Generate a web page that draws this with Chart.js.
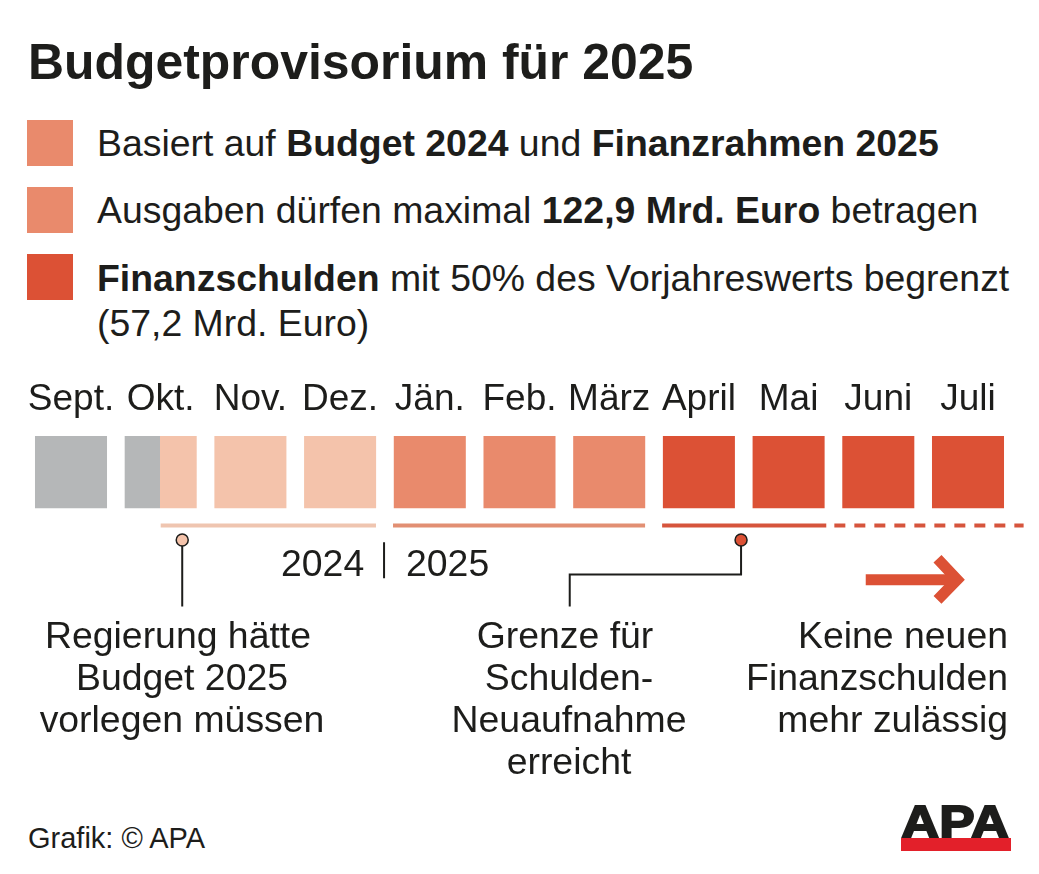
<!DOCTYPE html>
<html lang="de">
<head>
<meta charset="utf-8">
<title>Budgetprovisorium für 2025</title>
<script src="https://cdn.jsdelivr.net/npm/chart.js@4"></script>
<style>
  html, body { margin: 0; padding: 0; background: #fff; overflow: hidden; }
  body { width: 1039px; height: 874px; position: relative; font-family: "Liberation Sans", Arial, sans-serif; color: #1d1d1b; }
  .txt { position: absolute; font-size: 37.4px; line-height: 42px; white-space: nowrap; }
  .mitte { text-align: center; transform: translateX(-50%); }
  .rechts { text-align: right; }
  .titel { left: 28px; top: 37px; font-size: 49.9px; line-height: 50px; font-weight: bold; }
  .feld { position: absolute; left: 27px; width: 46px; height: 46px; }
  .quelle { left: 28px; top: 823px; font-size: 29px; line-height: 30px; }
  #diagramm { position: absolute; left: 0; top: 370px; }
  .logo { position: absolute; left: 901px; top: 796px; width: 110px; height: 42px; overflow: hidden; }
  .logo span { position: absolute; left: 0; bottom: -9px; font-size: 47px; line-height: 50px; font-weight: bold; color: #1d1d1b; -webkit-text-stroke: 2px #1d1d1b; transform-origin: left bottom; transform: scaleX(1.13); }
  .logo-balken { position: absolute; left: 901px; top: 838px; width: 110px; height: 13px; background: #e3202a; }
  .links4 { position: relative; left: -4px; }
</style>
</head>
<body>
  <div class="txt titel">Budgetprovisorium für 2025</div>

  <div class="feld" style="top:120px;background:#e98a6c"></div>
  <div class="txt" style="left:97px;top:122px">Basiert auf <b>Budget 2024</b> und <b>Finanzrahmen 2025</b></div>
  <div class="feld" style="top:187px;background:#e98a6c"></div>
  <div class="txt" style="left:97px;top:189px">Ausgaben dürfen maximal <b>122,9 Mrd. Euro</b> betragen</div>
  <div class="feld" style="top:254px;background:#dc5135"></div>
  <div class="txt" style="left:97px;top:255.5px;line-height:45px"><b>Finanzschulden</b> mit 50% des Vorjahreswerts begrenzt<br>(57,2 Mrd. Euro)</div>

  <canvas id="diagramm" width="1039" height="254"></canvas>

  <div class="txt" style="left:281px;top:542px">2024</div>
  <div class="txt" style="left:406px;top:542px">2025</div>

  <div class="txt mitte" style="left:182px;top:614px"><span class="links4">Regierung hätte</span><br>Budget 2025<br>vorlegen müssen</div>
  <div class="txt mitte" style="left:569px;top:614px"><span class="links4">Grenze für</span><br>Schulden-<br>Neuaufnahme<br>erreicht</div>
  <div class="txt rechts" style="right:31px;top:614px">Keine neuen<br>Finanzschulden<br>mehr zulässig</div>

  <div class="txt quelle">Grafik: © APA</div>
  <div class="logo"><span>APA</span></div>
  <div class="logo-balken"></div>

<script>
// Monate und Phasen
const monate = ['Sept.', 'Okt.', 'Nov.', 'Dez.', 'Jän.', 'Feb.', 'März', 'April', 'Mai', 'Juni', 'Juli'];
const monatWerte = [1, 1, 1, 1, 1, 1, 1, 1, 1, 1, 1];
const monatPhase = ['vor', 'wechsel', 'p2024', 'p2024', 'p2025', 'p2025', 'p2025', 'schuld', 'schuld', 'schuld', 'schuld'];

// Zeitleiste in Monaten (0 = Sept.), Zeilen relativ zur Balkenhöhe
const zeitProvisorium2024 = [1, 3.4];
const zeitProvisorium2025 = [3.59, 6.4];
const zeitSchulden = [6.59, 8.42];
const zeitKeineSchulden = [8.51, 10.62];
const zeitVorlage = 1.24;
const zeitGrenze = 7.47;
const zeitGrenzeText = 5.56;
const zeitJahreswechsel = 3.49;
const zeitPfeil = [8.86, 9.8];
const zeitPfeilSpitze = [9.66, 9.88, 9.66];

const zeileBalken = -0.24;
const zeilePunkt = -0.44;
const zeileKnick = -0.92;
const zeileTextAnfang = -1.36;
const zeileJahrOben = -0.47;
const zeileJahrUnten = -0.97;
const zeilePfeil = -0.99;
const zeilenPfeilSpitze = [-0.7, -0.99, -1.27];

const farben = {
  vor: '#b5b7b8',
  p2024: '#f4c3ab',
  p2025: '#e98a6c',
  schuld: '#dc5135',
  linie: '#1d1d1b'
};

function balkenFarbe(c) {
  const phase = monatPhase[c.dataIndex];
  if (phase !== 'wechsel') return farben[phase];
  // Oktober: Wechsel von grau auf hell in der Monatsmitte
  const xs = c.chart.scales.x;
  if (!xs) return farben.vor;
  const mitte = xs.getPixelForValue(c.dataIndex);
  const g = c.chart.ctx.createLinearGradient(mitte - 36, 0, mitte + 36, 0);
  g.addColorStop(0, farben.vor);
  g.addColorStop(0.49, farben.vor);
  g.addColorStop(0.49, farben.p2024);
  g.addColorStop(1, farben.p2024);
  return g;
}

function strecke(zeit, zeile, farbe, breite, extra) {
  return Object.assign({
    type: 'line',
    xAxisID: 'zeit',
    data: zeit.map((x) => ({ x: x, y: zeile })),
    borderColor: farbe,
    borderWidth: breite,
    pointRadius: 0,
    clip: false,
    borderCapStyle: 'butt'
  }, extra || {});
}

function pfad(punkte, farbe, breite) {
  return strecke([], 0, farbe, breite, { data: punkte, borderJoinStyle: 'miter' });
}

function punkt(x, y, fuellung) {
  return {
    type: 'scatter',
    xAxisID: 'zeit',
    data: [{ x: x, y: y }],
    backgroundColor: fuellung,
    borderColor: farben.linie,
    borderWidth: 1.5,
    pointRadius: 6,
    clip: false
  };
}

new Chart(document.getElementById('diagramm'), {
  data: {
    labels: monate,
    datasets: [
      punkt(zeitVorlage, zeilePunkt, farben.p2024),
      punkt(zeitGrenze, zeilePunkt, farben.schuld),
      pfad([{ x: zeitVorlage, y: zeilePunkt }, { x: zeitVorlage, y: zeileTextAnfang }], farben.linie, 2),
      pfad([
        { x: zeitGrenze, y: zeilePunkt },
        { x: zeitGrenze, y: zeileKnick },
        { x: zeitGrenzeText, y: zeileKnick },
        { x: zeitGrenzeText, y: zeileTextAnfang }
      ], farben.linie, 2),
      pfad([{ x: zeitJahreswechsel, y: zeileJahrOben }, { x: zeitJahreswechsel, y: zeileJahrUnten }], farben.linie, 2),
      strecke(zeitProvisorium2024, zeileBalken, '#efc5b0', 4),
      strecke(zeitProvisorium2025, zeileBalken, '#e28f73', 4),
      strecke(zeitSchulden, zeileBalken, '#d6543c', 4),
      strecke(zeitKeineSchulden, zeileBalken, '#d6543c', 4, { borderDash: [11, 9] }),
      strecke(zeitPfeil, zeilePfeil, farben.schuld, 11),
      pfad(zeitPfeilSpitze.map((x, i) => ({ x: x, y: zeilenPfeilSpitze[i] })), farben.schuld, 11),
      {
        type: 'bar',
        data: monatWerte,
        backgroundColor: balkenFarbe,
        grouped: false,
        barPercentage: 0.803,
        categoryPercentage: 1
      }
    ]
  },
  options: {
    responsive: false,
    animation: false,
    devicePixelRatio: 1,
    layout: { padding: { left: 26.15, right: 26.15, top: 0, bottom: 4 } },
    plugins: { legend: { display: false }, tooltip: { enabled: false } },
    scales: {
      x: {
        type: 'category',
        position: 'top',
        grid: { display: false },
        border: { display: false },
        ticks: {
          autoSkip: false,
          maxRotation: 0,
          padding: 6,
          color: '#1d1d1b',
          font: { family: '"Liberation Sans", Arial, sans-serif', size: 37 }
        },
        afterFit: (s) => { s.height = 66; }
      },
      zeit: { type: 'linear', axis: 'x', display: false, min: -0.5, max: 10.5 },
      y: { type: 'linear', display: false, min: -1.5, max: 1 }
    }
  }
});
</script>
</body>
</html>
